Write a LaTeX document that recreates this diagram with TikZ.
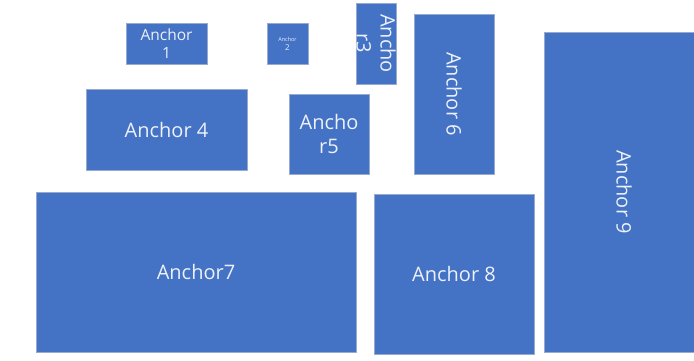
\documentclass[tikz,border=0pt]{standalone}
\usepackage{fontspec}
\setmainfont{Open Sans}
\definecolor{anchorfill}{RGB}{68,114,196}
\definecolor{anchoredge}{RGB}{150,170,205}
\definecolor{anchortext}{RGB}{236,241,250}
\tikzset{anchorbox/.style={rectangle,fill=anchorfill,draw=anchoredge,line width=0.4pt,text=anchortext,inner sep=0pt,align=center,font=\fontsize{20}{24}\selectfont}}
\begin{document}
\begin{tikzpicture}[x=1pt,y=-1pt,line join=round]
                \useasboundingbox (0,0) rectangle (694,360);
                \node[anchorbox,minimum width=81,minimum height=41,font=\fontsize{15.5}{18}\selectfont] (anchA) at (166.5,43.5) {Anchor\\1};
                \node[anchorbox,minimum width=41,minimum height=41,font=\fontsize{8}{9}\selectfont] (anchB) at (287.5,43.5) {{\fontsize{5.5}{6}\selectfont Anchor}\\2};
                \node[anchorbox,rotate=-90,minimum width=81,minimum height=40] (anchC) at (376,43.5) {Ancho\\r3};
                \node[anchorbox,minimum width=161,minimum height=81] (anchD) at (166.5,129.5) {Anchor 4};
                \node[anchorbox,minimum width=80,minimum height=80] (anchE) at (329,134) {Ancho\\r5};
                \node[anchorbox,rotate=-90,minimum width=160,minimum height=80] (anchF) at (454,94) {Anchor 6};
                \node[anchorbox,minimum width=320,minimum height=160] (anchG) at (196,272) {Anchor7};
                \node[anchorbox,minimum width=160,minimum height=160] (anchH) at (454,274) {Anchor 8};
                \node[anchorbox,rotate=-90,minimum width=320,minimum height=160] (anchI) at (624,192) {Anchor 9};
            \end{tikzpicture}
\end{document}
